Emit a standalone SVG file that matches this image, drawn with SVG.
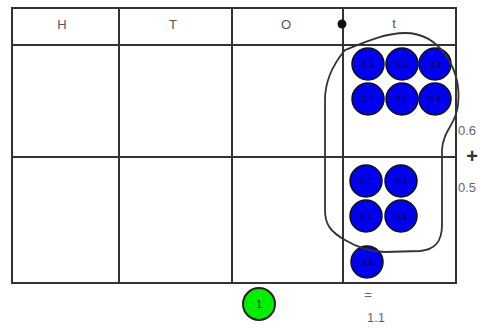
<svg xmlns="http://www.w3.org/2000/svg" width="484" height="328" viewBox="0 0 484 328">
<style>
.grid{stroke:#333;stroke-width:2;fill:none}
.hdr{font-family:"Liberation Sans",Arial,sans-serif;font-size:13px;fill:#555;text-anchor:middle}
.lbl{font-family:"Liberation Sans",Arial,sans-serif;font-size:13px;fill:#666}
.chip{fill:#0000ee;stroke:#111;stroke-width:1.5}
.ct{font-family:"Liberation Sans",Arial,sans-serif;font-size:9px;fill:#00004a;text-anchor:middle}
</style>
<rect width="484" height="328" fill="#fff"/>
<g id="grid" class="grid">
<rect x="12" y="8" width="444" height="275"/>
<line x1="12" y1="45" x2="456" y2="45"/>
<line x1="12" y1="157" x2="456" y2="157"/>
<line x1="119" y1="8" x2="119" y2="283"/>
<line x1="232" y1="8" x2="232" y2="283"/>
<line x1="343" y1="8" x2="343" y2="283"/>
</g>
<g id="headers">
<text class="hdr" x="62" y="29">H</text>
<text class="hdr" x="173" y="29">T</text>
<text class="hdr" x="286" y="29">O</text>
<text class="hdr" x="394" y="28">t</text>
</g>
<circle id="point" cx="342" cy="24" r="4.5" fill="#111"/>
<g id="chips">
<g><circle class="chip" cx="368" cy="64" r="16"/><text class="ct" x="368" y="67">0.1</text></g>
<g><circle class="chip" cx="402" cy="64" r="16"/><text class="ct" x="402" y="67">0.1</text></g>
<g><circle class="chip" cx="435" cy="64" r="16"/><text class="ct" x="435" y="67">0.1</text></g>
<g><circle class="chip" cx="368" cy="99" r="16"/><text class="ct" x="368" y="102">0.1</text></g>
<g><circle class="chip" cx="402" cy="99" r="16"/><text class="ct" x="402" y="102">0.1</text></g>
<g><circle class="chip" cx="435" cy="99" r="16"/><text class="ct" x="435" y="102">0.1</text></g>
<g><circle class="chip" cx="366" cy="181" r="16"/><text class="ct" x="366" y="184">0.1</text></g>
<g><circle class="chip" cx="401" cy="181" r="16"/><text class="ct" x="401" y="184">0.1</text></g>
<g><circle class="chip" cx="366" cy="216" r="16"/><text class="ct" x="366" y="219">0.1</text></g>
<g><circle class="chip" cx="401" cy="216" r="16"/><text class="ct" x="401" y="219">0.1</text></g>
<g><circle class="chip" cx="367" cy="262" r="16"/><text class="ct" x="367" y="265">0.1</text></g>
</g>
<path id="loop" d="M345,50 C365,42 385,33 405,33 C440,33 462,70 458,105 C456,125 443,130 442,150 L442,225 C442,244 433,250 420,251 L385,252 C370,252 355,246 345,240 C331,232 325,225 325,210 L325,100 C325,78 335,62 345,50 Z" fill="none" stroke="#333" stroke-width="1.8"/>
<g id="labels">
<text class="lbl" x="458" y="135">0.6</text>
<text x="472" y="163" font-family="Liberation Sans,Arial,sans-serif" font-size="20" font-weight="bold" fill="#333" text-anchor="middle">+</text>
<text class="lbl" x="458" y="192">0.5</text>
<text class="lbl" x="368" y="299" text-anchor="middle">=</text>
<text class="lbl" x="376" y="322" text-anchor="middle">1.1</text>
</g>
<g id="one">
<circle cx="259" cy="304" r="16" fill="#00ee00" stroke="#222" stroke-width="2"/>
<text x="259" y="308" font-family="Liberation Sans,Arial,sans-serif" font-size="11" fill="#222" text-anchor="middle">1</text>
</g>
</svg>
